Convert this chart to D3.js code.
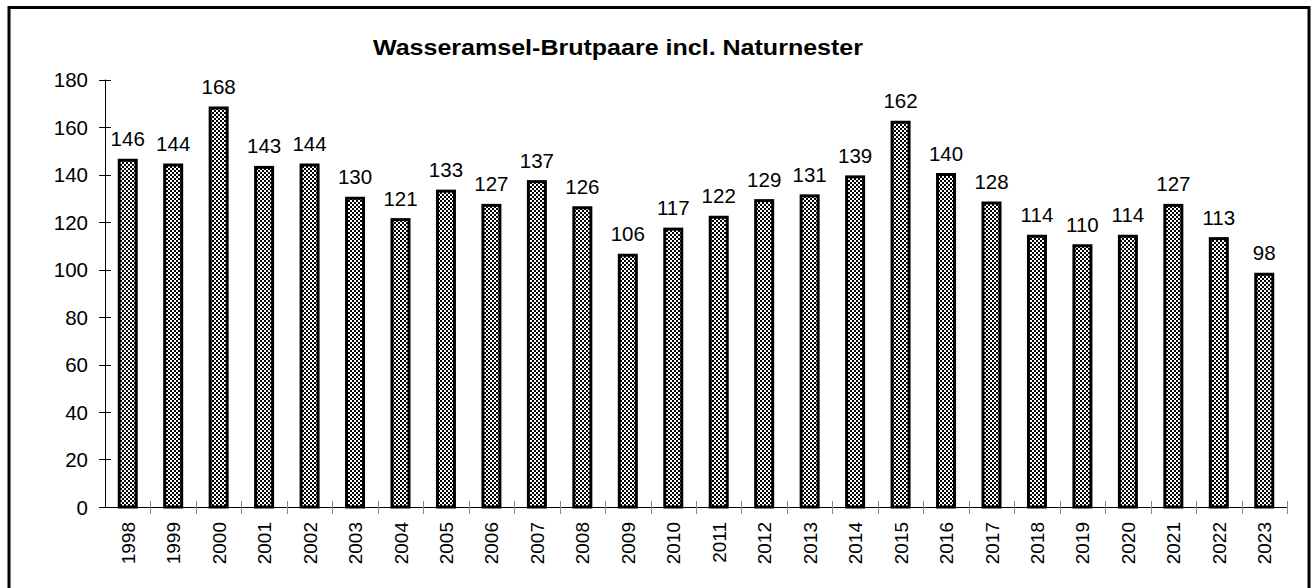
<!DOCTYPE html>
<html>
<head>
<meta charset="utf-8">
<script src="https://cdn.jsdelivr.net/npm/d3@7"></script>
<style>
  html, body { margin: 0; padding: 0; background: #fff; }
  svg { display: block; font-family: "Liberation Sans", Arial, sans-serif; }
</style>
</head>
<body>
<svg id="chart" width="1315" height="588"></svg>
<script>
const years = ['1998','1999','2000','2001','2002','2003','2004','2005','2006','2007','2008','2009','2010',
  '2011','2012','2013','2014','2015','2016','2017','2018','2019','2020','2021','2022','2023'];
const pairs = [146,144,168,143,144,130,121,133,127,137,126,106,117,122,129,131,139,162,140,128,114,110,114,127,113,98];
const yTicks = [0,20,40,60,80,100,120,140,160,180];
const title = 'Wasseramsel-Brutpaare incl. Naturnester';

const svg = d3.select('#chart');

// rahmen
svg.append('rect')
  .attr('x', 9).attr('y', 7.5).attr('width', 1300).attr('height', 600)
  .attr('fill', 'none').attr('stroke', '#000').attr('stroke-width', 3);

// karomuster fuer die balken
const pat = svg.append('defs').append('pattern')
  .attr('id', 'checker').attr('patternUnits', 'userSpaceOnUse')
  .attr('width', 4).attr('height', 4);
pat.append('rect').attr('width', 4).attr('height', 4).attr('fill', '#fff');
pat.append('rect').attr('width', 2).attr('height', 2).attr('fill', '#000');
pat.append('rect').attr('x', 2).attr('y', 2).attr('width', 2).attr('height', 2).attr('fill', '#000');

const x = d3.scaleBand().domain(years).range([105, 1287]).paddingInner(0).paddingOuter(0);
const y = d3.scaleLinear().domain([0, 180]).range([507, 79.5]);

svg.append('text')
  .attr('x', 373).attr('y', 55)
  .attr('font-size', 22).attr('font-weight', 'bold')
  .attr('textLength', 490).attr('lengthAdjust', 'spacingAndGlyphs')
  .text(title);

// y-achse
const yAxis = svg.append('g');
yAxis.append('line')
  .attr('x1', 105.5).attr('x2', 105.5).attr('y1', y(180)).attr('y2', y(0))
  .attr('stroke', '#000');
yAxis.selectAll('line.tick').data(yTicks).enter().append('line')
  .attr('class', 'tick')
  .attr('x1', 99).attr('x2', 111)
  .attr('y1', d => Math.round(y(d)) + 0.5).attr('y2', d => Math.round(y(d)) + 0.5)
  .attr('stroke', '#000');
yAxis.selectAll('text').data(yTicks).enter().append('text')
  .attr('x', 88).attr('y', d => y(d) + 7.5)
  .attr('text-anchor', 'end').attr('font-size', 20.5)
  .text(d => d);

// x-achse
const xAxis = svg.append('g');
xAxis.append('line')
  .attr('x1', 105).attr('x2', 1287).attr('y1', 507.5).attr('y2', 507.5)
  .attr('stroke', '#000');
xAxis.selectAll('line.tick').data(years.slice(1).concat(['end'])).enter().append('line')
  .attr('class', 'tick')
  .attr('x1', (d, i) => Math.round(105 + (i + 1) * x.bandwidth()) + 0.5)
  .attr('x2', (d, i) => Math.round(105 + (i + 1) * x.bandwidth()) + 0.5)
  .attr('y1', 501).attr('y2', 514)
  .attr('stroke', '#888');
xAxis.selectAll('text').data(years).enter().append('text')
  .attr('transform', d => `translate(${x(d) + x.bandwidth() / 2 + 7},522) rotate(-90)`)
  .attr('text-anchor', 'end').attr('font-size', 19)
  .text(d => d);

// balken
const barW = 17;
svg.append('g').selectAll('rect').data(pairs).enter().append('rect')
  .attr('x', (d, i) => x(years[i]) + x.bandwidth() / 2 - barW / 2)
  .attr('y', d => y(d))
  .attr('width', barW)
  .attr('height', d => y(0) - y(d))
  .attr('fill', 'url(#checker)')
  .attr('stroke', '#000').attr('stroke-width', 3);

// werte
svg.append('g').selectAll('text').data(pairs).enter().append('text')
  .attr('x', (d, i) => x(years[i]) + x.bandwidth() / 2)
  .attr('y', d => y(d) - 14)
  .attr('text-anchor', 'middle').attr('font-size', 20.5)
  .text(d => d);
</script>
</body>
</html>
